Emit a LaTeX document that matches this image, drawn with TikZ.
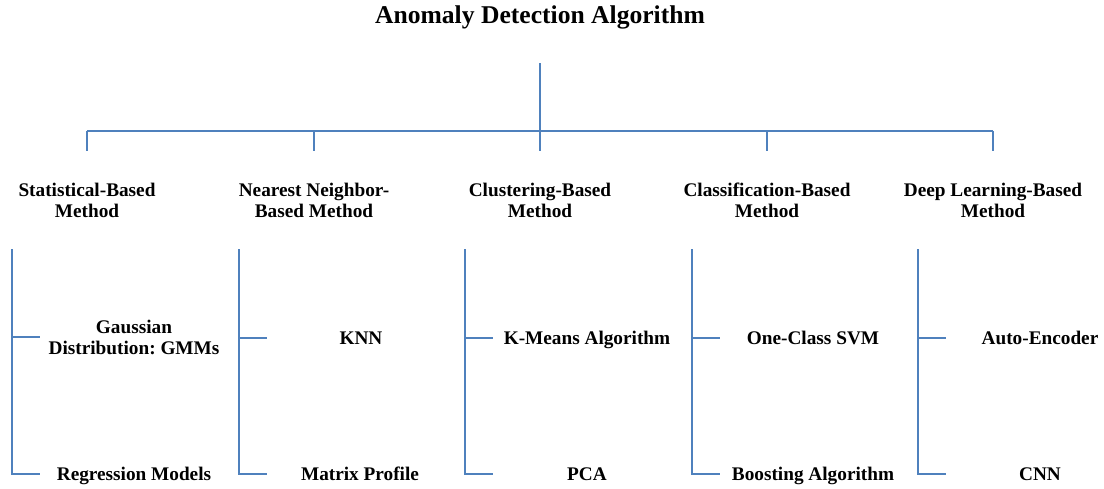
\documentclass[tikz,border=0pt]{standalone}
\usepackage{fontspec}
\setmainfont{Liberation Serif}
\usetikzlibrary{calc}
\definecolor{linkblue}{RGB}{79,129,189}
\tikzset{
    title/.style={font=\bfseries\fontsize{18.2}{20}\selectfont, inner sep=0pt},
    cat/.style={font=\bfseries\fontsize{13.7}{15}\selectfont, align=center, inner sep=0pt},
    leaf/.style={cat, text height=9pt, text depth=0pt},
    link/.style={draw=linkblue, line width=1pt},
}

\begin{document}
\frenchspacing
\begin{tikzpicture}[x=0.025cm, y=-0.025cm]
    \path[use as bounding box] (0,0) rectangle (1104,488);

    \node[title] (algo) at (540,17) {Anomaly Detection Algorithm};
    \coordinate (root) at (540,63);
    \coordinate (bar) at (540,131);

    \node[cat] (stat) at (87,200) {Statistical-Based\\Method};
    \node[cat] (near) at (314,200) {Nearest Neighbor-\\Based Method};
    \node[cat] (clus) at (540,200) {Clustering-Based\\Method};
    \node[cat] (clas) at (767,200) {Classification-Based\\Method};
    \node[cat] (deep) at (993,200) {Deep Learning-Based\\Method};

    \node[cat] (gmm) at (134,337) {Gaussian\\Distribution: GMMs};
    \node[leaf] (reg) at (134,474) {Regression Models};
    \node[leaf] (knn) at (361,338) {KNN};
    \node[leaf] (mp) at (360,474) {Matrix Profile};
    \node[leaf] (kmeans) at (587,338) {K-Means Algorithm};
    \node[leaf] (pca) at (587,474) {PCA};
    \node[leaf] (svm) at (813,338) {One-Class SVM};
    \node[leaf] (boost) at (813,474) {Boosting Algorithm};
    \node[leaf] (ae) at (1040,338) {Auto-Encoder};
    \node[leaf] (cnn) at (1040,474) {CNN};

    % trunk and top bar
    \draw[link] (root) -- (bar);
    \draw[link] (bar -| stat) -- (bar -| deep);

    % drops to the methods and their brackets
    \foreach \c/\a/\b in {stat/gmm/reg, near/knn/mp, clus/kmeans/pca,
                          clas/svm/boost, deep/ae/cnn} {
        \draw[link] (bar -| \c) -- ++(0,20);
        \coordinate (\c-top) at ($(\c)+(-75,49)$);
        \draw[link] (\c-top) |- ($(\c-top |- \b)+(28,0)$);
        \draw[link] (\c-top |- \a) -- ++(28,0);
    }
\end{tikzpicture}
\end{document}
